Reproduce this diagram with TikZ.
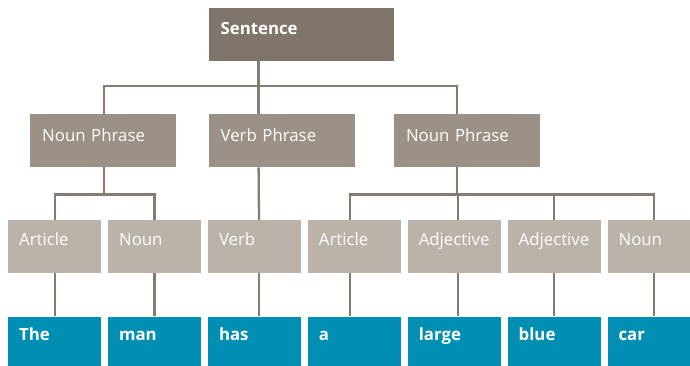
\documentclass[tikz,border=0pt]{standalone}
\usepackage{fontspec}
\setmainfont{Open Sans}
\usetikzlibrary{positioning}

\definecolor{sentcol}{HTML}{80756A}
\definecolor{phrasecol}{HTML}{9C9186}
\definecolor{classcol}{HTML}{BBB3AA}
\definecolor{wordcol}{HTML}{008FB2}
\definecolor{linecol}{HTML}{857B72}

\begin{document}
\begin{tikzpicture}[
    box/.style={anchor=north west, inner ysep=0pt, text=white, align=left, font=\fontsize{16.8}{19}\selectfont},
    sent/.style={box, fill=sentcol, inner xsep=12pt, text width=161pt, text height=27pt, text depth=26pt, font=\fontsize{16.8}{19}\selectfont\bfseries},
    phrase/.style={box, fill=phrasecol, inner xsep=12pt, text width=122pt, text height=27pt, text depth=26pt},
    wclass/.style={box, fill=classcol, inner xsep=11pt, text width=71pt, text height=25pt, text depth=28pt},
    word/.style={wclass, fill=wordcol, text height=24pt, text depth=29pt, font=\fontsize{16.8}{19}\selectfont\bfseries},
    tree/.style={draw=linecol, line width=2.3pt}
  ]

\useasboundingbox (0,0) rectangle (690pt,-366pt);

% Phrase level
\node[phrase] (np1) at (30pt,-114pt) {Noun Phrase};
\node[phrase, right=32pt of np1] (vp) {Verb Phrase};
\node[phrase, right=39pt of vp] (np2) {Noun Phrase};

% Sentence on top
\node[sent, above=53pt of vp.north west, anchor=south west] (S) {Sentence};

% Word classes
\node[wclass] (art1) at (8pt,-220pt) {Article};
\node[wclass, right=6.5pt of art1] (noun1) {Noun};
\node[wclass, right=6.5pt of noun1] (verb) {Verb};
\node[wclass, right=6.5pt of verb] (art2) {Article};
\node[wclass, right=6.5pt of art2] (adj1) {Adjective};
\node[wclass, right=6.5pt of adj1] (adj2) {Adjective};
\node[wclass, right=6.5pt of adj2] (noun2) {Noun};

% Words
\node[word, below=43pt of art1] (the) {The};
\node[word, below=43pt of noun1] (man) {man};
\node[word, below=43pt of verb] (has) {has};
\node[word, below=43pt of art2] (a) {a};
\node[word, below=43pt of adj1] (large) {large};
\node[word, below=43pt of adj2] (blue) {blue};
\node[word, below=43pt of noun2] (car) {car};

% Sentence branches
\draw[tree] ([xshift=-42.5pt]S.south) -- ++(0,-25pt) -| ([xshift=1pt]np1.north);
\draw[tree] ([xshift=-42.5pt]S.south) -- ([xshift=-23pt]vp.north);
\draw[tree] ([xshift=-42.5pt]S.south) -- ++(0,-25pt) -| ([xshift=-10pt]np2.north);

% Phrase branches
\draw[tree] ([xshift=1pt]np1.south) -- ++(0,-27pt) coordinate (bus1);
\draw[tree] (art1.north) |- (bus1) -| (noun1.north);
\draw[tree] ([xshift=-23pt]vp.south) -- ([xshift=4.5pt]verb.north);
\draw[tree] ([xshift=-10pt]np2.south) -- ++(0,-27pt) coordinate (bus2);
\draw[tree] ([xshift=-4.5pt]art2.north) |- (bus2) -| (noun2.north);
\foreach \c/\dx in {adj1/3.5pt, adj2/0pt} {
    \draw[tree] ([xshift=\dx]\c.north) |- (bus2);
}

% Word class to word
\foreach \c/\w/\dx in {art1/the/0pt, noun1/man/0pt, verb/has/4.5pt, art2/a/-4.5pt, adj1/large/3.5pt, adj2/blue/0pt, noun2/car/0pt} {
    \draw[tree] ([xshift=\dx]\c.south) -- ([xshift=\dx]\w.north);
}

\end{tikzpicture}
\end{document}
